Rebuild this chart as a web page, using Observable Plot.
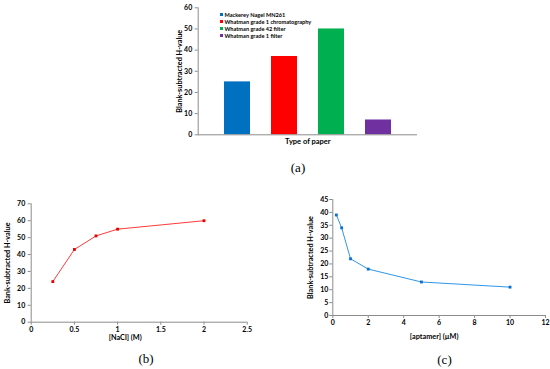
<!DOCTYPE html>
<html><head><meta charset="utf-8">
<script src="https://cdn.jsdelivr.net/npm/d3@7"></script>
<script src="https://cdn.jsdelivr.net/npm/@observablehq/plot@0.6"></script>
<style>
body{margin:0;background:#fff;}
#root{position:relative;width:550px;height:369px;overflow:hidden;background:#fff;font-family:Lato,"Open Sans",sans-serif;}
.tag{position:absolute;font-family:"Liberation Serif","DejaVu Serif",serif;font-size:13px;transform:translate(-50%,-50%);color:#000;white-space:nowrap;}
.leg{position:absolute;font-family:Lato,sans-serif;font-size:5.6px;font-weight:bold;color:#000;white-space:nowrap;}
.leg div{display:flex;align-items:center;height:7px;}
.leg span.sw{display:inline-block;width:3px;height:3px;margin-right:2px;}
</style>
</head><body>
<div id="root"></div>
<script>
// ---- data ----
const paperTypes = ["Mackerey Nagel MN261","Whatman grade 1 chromatography","Whatman grade 42 filter","Whatman grade 1 filter"];
const paperValues = [25, 37, 50, 7];
const paperColors = ["#0070C0","#FF0000","#00B050","#7030A0"];
const aYTicks = [0,10,20,30,40,50,60];

const naclConc = [0.25, 0.5, 0.75, 1, 2];
const naclValues = [24, 43, 51, 55, 60];
const bYTicks = [0,10,20,30,40,50,60,70];
const bXTicks = [0,0.5,1,1.5,2,2.5];

const aptamerConc = [0.2, 0.5, 1, 2, 5, 10];
const aptamerValues = [39, 34, 22, 18, 13, 11];
const cYTicks = [0,5,10,15,20,25,30,35,40,45];
const cXTicks = [0,2,4,6,8,10,12];

const yLabelA = "Blank-subtracted H-value";
const xLabelA = "Type of paper";
const yLabelB = "Bank-subtracted H-value";
const xLabelB = "[NaCl] (M)";
const yLabelC = "Blank-subtracted H-value";
const xLabelC = "[aptamer] (\u00b5M)";

// ---- helpers ----
const root = document.getElementById("root");
function place(node, left, top) {
  node.style.position = "absolute";
  node.style.left = left + "px";
  node.style.top = top + "px";
  root.appendChild(node);
}
const baseStyle = {fontFamily: "Lato, 'Open Sans', sans-serif", fontSize: "7px", fontWeight: "bold", color: "#000", background: "transparent", overflow: "visible"};
const axisGray = "#8c8c8c";
const fmt = d => String(d);

// ---- chart (a) ----
const paperTable = paperTypes.map((t, i) => ({type: t, value: paperValues[i]}));
const chartA = Plot.plot({
  width: 250, height: 150,
  marginLeft: 27.7, marginRight: 3, marginTop: 7.3, marginBottom: 15.7,
  style: baseStyle,
  x: {type: "band", domain: paperTypes, paddingInner: 0.45, paddingOuter: 0.55, axis: null},
  y: {domain: [0, 60]},
  color: {domain: paperTypes, range: paperColors},
  marks: [
    Plot.barY(paperTable, {x: "type", y: "value", fill: "type"}),
    Plot.frame({anchor: "left", stroke: axisGray}),
    Plot.ruleY([0], {stroke: axisGray}),
    Plot.axisY(aYTicks, {tickSize: 3, tickPadding: 3, tickFormat: fmt, stroke: axisGray, fill: "#000", label: null, fontWeight: "bold"}),
    Plot.text([yLabelA], {text: d => d, frameAnchor: "left", textAnchor: "middle", rotate: -90, dx: -18.4, fontSize: 7.3, fontWeight: "bold"}),
    Plot.text([xLabelA], {text: d => d, frameAnchor: "bottom", dy: 9.2, fontSize: 7.5, fontWeight: "bold"})
  ]
});
place(chartA, 170, 0);

// legend (a)
const leg = d3.select(root).append("div").attr("class", "leg").style("left", "219.5px").style("top", "11px");
paperTypes.forEach((t, i) => {
  const row = leg.append("div");
  row.append("span").attr("class", "sw").style("background", paperColors[i]);
  row.append("span").text(t);
});

// ---- chart (b) ----
const naclTable = naclConc.map((c, i) => ({c, v: naclValues[i]}));
const chartB = Plot.plot({
  width: 260, height: 155,
  marginLeft: 30.7, marginRight: 13.3, marginTop: 13.3, marginBottom: 23.3,
  style: baseStyle,
  x: {domain: [0, 2.5]},
  y: {domain: [0, 70]},
  marks: [
    Plot.ruleX([0], {stroke: axisGray}),
    Plot.ruleY([0], {stroke: axisGray}),
    Plot.axisY(bYTicks, {tickSize: 3, tickPadding: 3, tickFormat: fmt, stroke: axisGray, fill: "#000", label: null, fontWeight: "bold"}),
    Plot.axisX(bXTicks, {tickSize: 3, tickPadding: 2, tickFormat: fmt, stroke: axisGray, fill: "#000", label: null, fontWeight: "bold"}),
    Plot.line(naclTable, {x: "c", y: "v", stroke: "#ff3b3b", strokeWidth: 1}),
    Plot.dot(naclTable, {x: "c", y: "v", symbol: "square", r: 1.6, fill: "#e80000", stroke: null}),
    Plot.text([yLabelB], {text: d => d, frameAnchor: "left", textAnchor: "middle", rotate: -90, dx: -24, fontSize: 7.3, fontWeight: "bold"}),
    Plot.text([xLabelB], {text: d => d, frameAnchor: "bottom", dy: 17.3, dx: -14, fontSize: 7.3, fontWeight: "bold"})
  ]
});
place(chartB, 0, 190);

// ---- chart (c) ----
const aptTable = aptamerConc.map((c, i) => ({c, v: aptamerValues[i]}));
const chartC = Plot.plot({
  width: 270, height: 155,
  marginLeft: 52.3, marginRight: 5, marginTop: 9, marginBottom: 30,
  style: baseStyle,
  x: {domain: [0, 12]},
  y: {domain: [0, 45]},
  marks: [
    Plot.ruleX([0], {stroke: axisGray}),
    Plot.ruleY([0], {stroke: axisGray}),
    Plot.axisY(cYTicks, {tickSize: 3, tickPadding: 1.5, tickFormat: fmt, stroke: axisGray, fill: "#000", label: null, fontWeight: "bold"}),
    Plot.axisX(cXTicks, {tickSize: 3, tickPadding: 2, tickFormat: fmt, stroke: axisGray, fill: "#000", label: null, fontWeight: "bold"}),
    Plot.line(aptTable, {x: "c", y: "v", stroke: "#2f97e6", strokeWidth: 1}),
    Plot.dot(aptTable, {x: "c", y: "v", symbol: "square", r: 1.6, fill: "#0a6fd0", stroke: null}),
    Plot.text([yLabelC], {text: d => d, frameAnchor: "left", textAnchor: "middle", rotate: -90, dx: -22.6, fontSize: 7.3, fontWeight: "bold"}),
    Plot.text([xLabelC], {text: d => d, frameAnchor: "bottom", dy: 23.3, dx: -5, fontSize: 7.3, fontWeight: "bold"})
  ]
});
place(chartC, 280, 190);

// ---- panel tags ----
[["(a)", 298, 168], ["(b)", 146, 359], ["(c)", 444.5, 360]].forEach(([t, x, y]) => {
  d3.select(root).append("div").attr("class", "tag").style("left", x + "px").style("top", y + "px").text(t);
});
</script>
</body></html>
